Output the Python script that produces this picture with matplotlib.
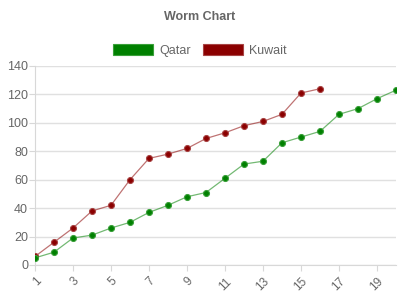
import matplotlib.pyplot as plt

plt.rcParams["font.family"] = ["Liberation Sans", "DejaVu Sans"]

rounds = list(range(1, 21))
qatar = [5, 9, 19, 21, 26, 30, 37, 42, 48, 51, 61, 71, 73, 86, 90, 94, 106, 110, 117, 123]
kuwait = [6, 16, 26, 38, 42, 60, 75, 78, 82, 89, 93, 98, 101, 106, 121, 124]
series = [("Qatar", qatar, "#008000", "#3aa03a"), ("Kuwait", kuwait, "#8b0000", "#a84444")]

fig = plt.figure(figsize=(4, 3), dpi=100)
ax = fig.add_axes([0.0875, 0.1167, 0.9025, 0.6633])

# draw Kuwait first so Qatar's markers sit on top
for i, (name, vals, color, edge) in enumerate(reversed(series)):
    ax.plot(rounds[:len(vals)], vals, color=color, alpha=0.55, lw=0.9, zorder=2 + 2 * i)
    ax.plot(rounds[:len(vals)], vals, ls="none", marker="o", ms=4.3,
            mfc=color, mec=edge, mew=0.8, zorder=3 + 2 * i)

ax.set_xlim(1, 20)
ax.set_ylim(0, 140)
ax.set_yticks(range(0, 141, 20))
ax.set_xticks(range(1, 20, 2))
ax.grid(axis="y", color="#e0e0e0", lw=1)
ax.set_axisbelow(True)
for s in ["top", "right"]:
    ax.spines[s].set_visible(False)
for s in ["left", "bottom"]:
    ax.spines[s].set_color("#d8d8d8")
ax.tick_params(axis="y", colors="#d8d8d8", labelcolor="#666666", labelsize=9, length=4, pad=1)
ax.tick_params(axis="x", colors="#d8d8d8", labelcolor="#666666", labelsize=8.5, length=4)
plt.setp(ax.get_xticklabels(), rotation=45, ha="right", rotation_mode="anchor")

fig.text(0.5, 0.943, "Worm Chart", ha="center", va="center", fontsize=9,
         fontweight="bold", color="#666666")
handles = [plt.Rectangle((0, 0), 1, 1, fc=c, ec=e, lw=0.8) for _, _, c, e in series]
fig.legend(handles, [s[0] for s in series], loc="center", bbox_to_anchor=(0.5, 0.833),
           ncol=2, frameon=False, fontsize=9, handlelength=3.2, handleheight=1.0,
           handletextpad=0.55, columnspacing=0.9, labelcolor="#666666")

fig.savefig("out.png", dpi=100)
